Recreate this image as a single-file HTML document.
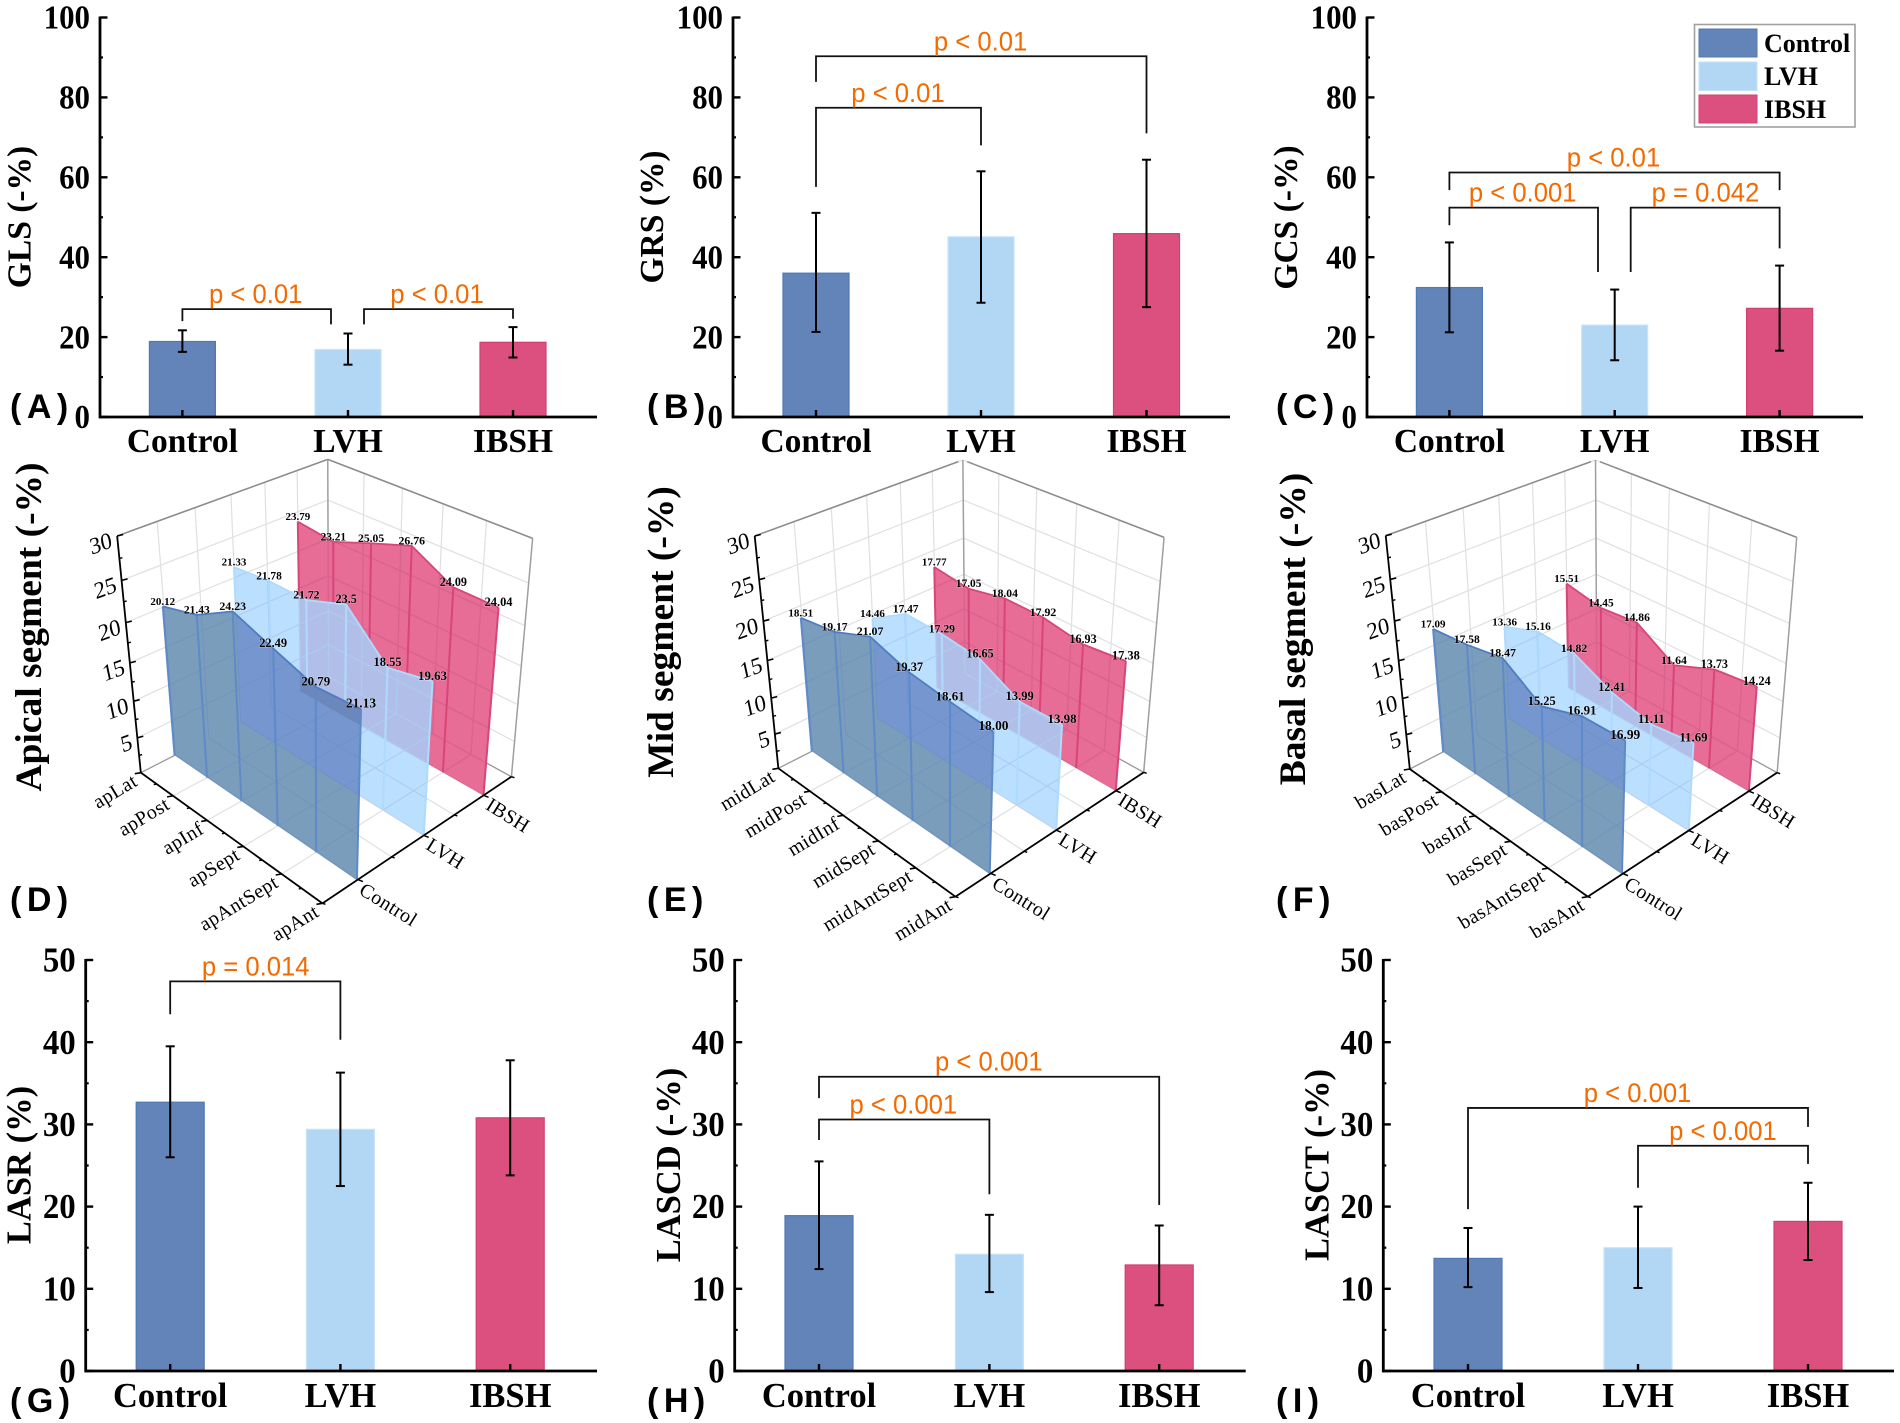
<!DOCTYPE html>
<html lang="en">
<head>
<meta charset="utf-8">
<title>Strain comparison among Control, LVH and IBSH</title>
<style>
html,body{margin:0;padding:0;background:#fff;}
svg{display:block;}
text{font-family:"Liberation Serif",serif;}
.sans{font-family:"Liberation Sans",sans-serif;}
</style>
</head>
<body>
<svg id="figure" xmlns="http://www.w3.org/2000/svg" width="1900" height="1423" viewBox="0 0 1900 1423">
  <rect width="1900" height="1423" fill="#ffffff"/>
  <g>
    <rect x="1694.5" y="24.5" width="160.5" height="102.5" fill="#fff" stroke="#a0a0a0" stroke-width="1.6"/>
    <rect x="1699" y="29" width="58" height="28" fill="#6384b9" stroke="#5279b2"/>
    <text x="1764" y="52" font-size="26" font-weight="700">Control</text>
    <rect x="1699" y="62" width="58" height="28.5" fill="#b2d7f5" stroke="#c4e2fa"/>
    <text x="1764" y="85" font-size="26" font-weight="700">LVH</text>
    <rect x="1699" y="95" width="58" height="28" fill="#dc5080" stroke="#d8406f"/>
    <text x="1764" y="118" font-size="26" font-weight="700">IBSH</text>
  </g>
</svg>
<script>
// ---------- shared categories ----------
const categories = ['Control', 'LVH', 'IBSH'];
const ticks100 = [0, 20, 40, 60, 80, 100];
const ticks50 = [0, 10, 20, 30, 40, 50];
const ticks3d = [5, 10, 15, 20, 25, 30];

// ---------- bar chart values ----------
const glsMeans = [18.9, 16.9, 18.7];
const glsUpper = [21.7, 20.9, 22.5];
const glsLower = [16.3, 13.1, 14.9];
const grsMeans = [36.0, 45.1, 45.9];
const grsUpper = [51.1, 61.5, 64.4];
const grsLower = [21.3, 28.6, 27.5];
const gcsMeans = [32.4, 23.0, 27.2];
const gcsUpper = [43.7, 31.9, 37.9];
const gcsLower = [21.2, 14.2, 16.6];
const lasrMeans = [32.7, 29.4, 30.8];
const lasrUpper = [39.5, 36.3, 37.8];
const lasrLower = [26.0, 22.5, 23.8];
const lascdMeans = [18.9, 14.2, 12.9];
const lascdUpper = [25.5, 19.0, 17.7];
const lascdLower = [12.4, 9.6, 8.0];
const lasctMeans = [13.7, 15.0, 18.2];
const lasctUpper = [17.4, 20.0, 22.9];
const lasctLower = [10.2, 10.1, 13.5];

// ---------- segmental values ----------
const apicalSegments = ['apLat', 'apPost', 'apInf', 'apSept', 'apAntSept', 'apAnt'];
const apicalControl = [20.12, 21.43, 24.23, 22.49, 20.79, 21.13];
const apicalLVH = [21.33, 21.78, 21.72, 23.5, 18.55, 19.63];
const apicalIBSH = [23.79, 23.21, 25.05, 26.76, 24.09, 24.04];
const midSegments = ['midLat', 'midPost', 'midInf', 'midSept', 'midAntSept', 'midAnt'];
const midControl = [18.51, 19.17, 21.07, 19.37, 18.61, 18.00];
const midLVH = [14.46, 17.47, 17.29, 16.65, 13.99, 13.98];
const midIBSH = [17.77, 17.05, 18.04, 17.92, 16.93, 17.38];
const basalSegments = ['basLat', 'basPost', 'basInf', 'basSept', 'basAntSept', 'basAnt'];
const basalControl = [17.09, 17.58, 18.47, 15.25, 16.91, 16.99];
const basalLVH = [13.36, 15.16, 14.82, 12.41, 11.11, 11.69];
const basalIBSH = [15.51, 14.45, 14.86, 11.64, 13.73, 14.24];

// ---------- palette ----------
const barFill = ['#6384b9', '#b2d7f5', '#dc5080'];
const barEdge = ['#4f79b4', '#c6e3fa', '#d23f70'];
const ORANGE = '#f26a00';
const NS = 'http://www.w3.org/2000/svg';
const svg = document.getElementById('figure');

function mk(parent, tag, attrs, name) {
  const el = document.createElementNS(NS, tag);
  for (const k in attrs) el.setAttribute(k, attrs[k]);
  
  
  parent.appendChild(el);
  return el;
}
function line(parent, x1, y1, x2, y2, stroke, w, name) {
  return mk(parent, 'line', {x1: x1, y1: y1, x2: x2, y2: y2, stroke: stroke, 'stroke-width': w}, name);
}
function label(parent, x, y, str, attrs, name) {
  const el = mk(parent, 'text', Object.assign({x: x, y: y}, attrs), name);
  el.textContent = str;
  return el;
}

// ---------- bar panels ----------
function barPanel(p) {
  const g = mk(svg, 'g', {}, 'panel-' + p.id);
  const sy = v => p.y0 - (v / p.max) * (p.y0 - p.y1);
  const half = p.barW / 2;
  p.means.forEach((m, i) => {
    const top = sy(m);
    mk(g, 'rect', {x: p.cx[i] - half, y: top, width: p.barW, height: p.y0 - top, fill: barFill[i], stroke: barEdge[i], 'stroke-width': 1.2}, 'bar-' + p.id + '-' + categories[i]);
    const eb = mk(g, 'g', {}, 'error-bar-' + p.id + '-' + categories[i]);
    line(eb, p.cx[i], sy(p.upper[i]), p.cx[i], sy(p.lower[i]), '#000', 2, 'error-stem');
    line(eb, p.cx[i] - 4.5, sy(p.upper[i]), p.cx[i] + 4.5, sy(p.upper[i]), '#000', 2, 'error-cap-upper');
    line(eb, p.cx[i] - 4.5, sy(p.lower[i]), p.cx[i] + 4.5, sy(p.lower[i]), '#000', 2, 'error-cap-lower');
  });
  line(g, p.x0, p.y1 - 1, p.x0, p.y0 + 1.2, '#000', 2.8, 'y-axis-line');
  line(g, p.x0 - 1, p.y0, p.x1, p.y0, '#000', 2.8, 'x-axis-line');
  p.ticks.forEach((t, i) => {
    line(g, p.x0, sy(t), p.x0 + 7.5, sy(t), '#000', 2.4, 'y-tick-major');
    if (i < p.ticks.length - 1) line(g, p.x0, sy((t + p.ticks[i + 1]) / 2), p.x0 + 3, sy((t + p.ticks[i + 1]) / 2), '#000', 2.2, 'y-tick-minor');
    label(g, 0, 0, String(t), {'text-anchor': 'end', 'font-size': p.tickFont, 'font-weight': 700, transform: 'translate(' + (p.x0 - 10) + ',' + (sy(t) + p.tickFont * 0.33) + ') scale(' + p.tickScale + ',1)'}, 'y-tick-label');
  });
  categories.forEach((c, i) => {
    line(g, p.cx[i], p.y0, p.cx[i], p.y0 - 7, '#000', 2.4, 'x-tick');
    label(g, p.cx[i], p.catY, c, {'text-anchor': 'middle', 'font-size': p.catFont, 'font-weight': 700}, 'x-tick-label-' + c);
  });
  label(g, 0, 0, p.title, {'text-anchor': 'middle', 'font-size': p.titleFont, 'font-weight': 700, transform: 'translate(' + p.titleX + ',' + p.titleY + ') rotate(-90)'}, 'y-axis-title');
  p.brackets.forEach((b, i) => {
    const xa = p.cx[b.from] + (b.dxA || 0);
    const xb = p.cx[b.to] + (b.dxB || 0);
    const br = mk(g, 'g', {}, 'significance-bracket-' + (i + 1));
    mk(br, 'polyline', {points: xa + ',' + sy(b.dropA) + ' ' + xa + ',' + sy(b.level) + ' ' + xb + ',' + sy(b.level) + ' ' + xb + ',' + sy(b.dropB), fill: 'none', stroke: '#111', 'stroke-width': 1.8}, 'bracket-line');
    label(br, 0, 0, b.text, {'text-anchor': 'middle', 'font-size': 27, fill: ORANGE, class: 'sans', transform: 'translate(' + b.textX + ',' + (sy(b.level) - 6) + ') scale(0.95,1)'}, 'p-value-label');
  });
  panelLetter(p.letter, p.letterX, p.letterY);
}
function panelLetter(str, x, y) {
  label(svg, x, y, str, {class: 'sans', 'font-size': 34, 'font-weight': 700, 'letter-spacing': 5.5}, 'panel-letter');
}

const upperY = {y0: 417, y1: 17.5, max: 100, ticks: ticks100, barW: 66, tickFont: 34, tickScale: 0.91, catFont: 33.5, catY: 452, titleFont: 33.5, letterY: 418};
const lowerY = {y0: 1371, y1: 960, max: 50, ticks: ticks50, barW: 68, tickFont: 35, tickScale: 0.94, catFont: 34.5, catY: 1407, titleFont: 34.5, letterY: 1412};

barPanel(Object.assign({}, upperY, {id: 'gls', means: glsMeans, upper: glsUpper, lower: glsLower, x0: 100, x1: 597, cx: [182.4, 348, 513],
  title: 'GLS (-%)', titleX: 30.5, titleY: 217, letter: '(A)', letterX: 10,
  brackets: [
    {from: 0, to: 1, level: 27, dropA: 24, dropB: 23.2, dxB: -17, text: 'p < 0.01', textX: 255.7},
    {from: 1, to: 2, level: 27, dropA: 23.2, dropB: 24.6, dxA: 16, text: 'p < 0.01', textX: 437}
  ]}));
barPanel(Object.assign({}, upperY, {id: 'grs', means: grsMeans, upper: grsUpper, lower: grsLower, x0: 733, x1: 1230, cx: [816, 981, 1146.5],
  title: 'GRS (%)', titleX: 663, titleY: 217, letter: '(B)', letterX: 647,
  brackets: [
    {from: 0, to: 2, level: 90.3, dropA: 83.9, dropB: 71, text: 'p < 0.01', textX: 980.6},
    {from: 0, to: 1, level: 77.4, dropA: 57.6, dropB: 68, text: 'p < 0.01', textX: 898}
  ]}));
barPanel(Object.assign({}, upperY, {id: 'gcs', means: gcsMeans, upper: gcsUpper, lower: gcsLower, x0: 1367, x1: 1863, cx: [1449.4, 1614.7, 1779.6],
  title: 'GCS (-%)', titleX: 1297, titleY: 217.5, letter: '(C)', letterX: 1276,
  brackets: [
    {from: 0, to: 2, level: 61.2, dropA: 56.8, dropB: 56.8, text: 'p < 0.01', textX: 1613.5},
    {from: 0, to: 1, level: 52.4, dropA: 48, dropB: 36.3, dxB: -16.7, text: 'p < 0.001', textX: 1522.7},
    {from: 1, to: 2, level: 52.4, dropA: 36.3, dropB: 42.2, dxA: 16, text: 'p = 0.042', textX: 1705.5}
  ]}));
barPanel(Object.assign({}, lowerY, {id: 'lasr', means: lasrMeans, upper: lasrUpper, lower: lasrLower, x0: 85.7, x1: 597, cx: [170.2, 340.4, 510.2],
  title: 'LASR (%)', titleX: 30.5, titleY: 1165, letter: '(G)', letterX: 10,
  brackets: [
    {from: 0, to: 1, level: 47.4, dropA: 43.4, dropB: 40.3, text: 'p = 0.014', textX: 255.7}
  ]}));
barPanel(Object.assign({}, lowerY, {id: 'lascd', means: lascdMeans, upper: lascdUpper, lower: lascdLower, x0: 734.7, x1: 1245.7, cx: [819, 989.4, 1159.2],
  title: 'LASCD (-%)', titleX: 680, titleY: 1165, letter: '(H)', letterX: 647,
  brackets: [
    {from: 0, to: 2, level: 35.8, dropA: 33.2, dropB: 20.2, text: 'p < 0.001', textX: 988.8},
    {from: 0, to: 1, level: 30.6, dropA: 28.1, dropB: 21.5, text: 'p < 0.001', textX: 903.3}
  ]}));
barPanel(Object.assign({}, lowerY, {id: 'lasct', means: lasctMeans, upper: lasctUpper, lower: lasctLower, x0: 1383.3, x1: 1894, cx: [1468, 1638, 1808],
  title: 'LASCT (-%)', titleX: 1328.6, titleY: 1165, letter: '(I)', letterX: 1276,
  brackets: [
    {from: 0, to: 2, level: 32, dropA: 19.7, dropB: 29.7, text: 'p < 0.001', textX: 1637.6},
    {from: 1, to: 2, level: 27.4, dropA: 22.3, dropB: 25.2, text: 'p < 0.001', textX: 1722.9}
  ]}));

// ---------- 3D waterfall panels ----------
function homography(q) {
  const [p0, p1, p2, p3] = q;
  const dx1 = p1[0] - p2[0], dx2 = p3[0] - p2[0], sx = p0[0] - p1[0] + p2[0] - p3[0];
  const dy1 = p1[1] - p2[1], dy2 = p3[1] - p2[1], sy = p0[1] - p1[1] + p2[1] - p3[1];
  const den = dx1 * dy2 - dx2 * dy1;
  const g = (sx * dy2 - dx2 * sy) / den, h = (dx1 * sy - sx * dy1) / den;
  const a = p1[0] - p0[0] + g * p1[0], b = p3[0] - p0[0] + h * p3[0], c = p0[0];
  const d = p1[1] - p0[1] + g * p1[1], e = p3[1] - p0[1] + h * p3[1], f = p0[1];
  return (u, v) => {
    const w = g * u + h * v + 1;
    return [(a * u + b * v + c) / w, (d * u + e * v + f) / w];
  };
}
const zq = (X, Y, x0, y0) => [X / 2.45 + x0, Y / 3 + y0];

function waterfall(p) {
  const g = mk(svg, 'g', {}, 'panel-' + p.id);
  const c = p.corners;
  const C = k => zq(c[k][0], c[k][1], p.ox, 450);
  const floor = homography([C('A'), C('B'), C('C'), C('D')]);
  const roof = homography([C('At'), C('Bt'), C('Ct'), C('Dt')]);
  const K = 1.155;
  const P = (u, v, z) => {
    const f = floor(u, v), r = roof(u, v), w = z / 30;
    const t = w / (K - (K - 1) * w);
    return [f[0] + (r[0] - f[0]) * t, f[1] + (r[1] - f[1]) * t];
  };
  const seg = (a, b, stroke, w, name) => line(g, a[0], a[1], b[0], b[1], stroke, w, name);
  const drawGrid = (parent, stroke, w) => {
    const s = (a, b, name) => line(parent, a[0], a[1], b[0], b[1], stroke, w, name);
    for (let i = 1; i <= 5; i++) {
      s(P(i / 5, 0, 0), P(i / 5, 1, 0), 'floor-grid-line');
      s(P(i / 5, 1, 0), P(i / 5, 1, 30), 'wall-grid-line');
    }
    for (let i = 1; i <= 6; i++) {
      s(P(0, i / 6, 0), P(1, i / 6, 0), 'floor-grid-line');
      s(P(0, i / 6, 0), P(0, i / 6, 30), 'wall-grid-line');
    }
    ticks3d.forEach(t => {
      s(P(0, 0, t), P(0, 1, t), 'wall-grid-line');
      s(P(0, 1, t), P(1, 1, t), 'wall-grid-line');
    });
  };
  drawGrid(g, '#e0e0e0', 1.2);
  const gap = p.topGap || 0;
  seg(P(0, 0, 30), P(0, 1 - gap, 30), '#8c8c8c', 1.6, 'wall-top-edge');
  seg(P(gap, 1, 30), P(1, 1, 30), '#8c8c8c', 1.6, 'wall-top-edge');
  seg(P(0, 0, 0), P(0, 1, 0), '#999', 1.3, 'floor-edge');
  seg(P(0, 1, 0), P(1, 1, 0), '#999', 1.3, 'floor-edge');
  seg(P(0, 1, 0), P(0, 1, 30), '#a0a0a0', 1.5, 'back-edge');
  seg(P(1, 1, 0), P(1, 1, 30), '#a0a0a0', 1.5, 'right-edge');

  const paneV = [0.162, 0.5, 0.833];
  const polyOf = (vals, v) => {
    const top = vals.map((val, i) => P(i / 5, v, val));
    const base = vals.map((val, i) => P(i / 5, v, 0)).reverse();
    return top.concat(base).map(q => q[0].toFixed(1) + ',' + q[1].toFixed(1)).join(' ');
  };
  const defs = mk(g, 'defs', {}, 'pane-clips');
  const ctlClip = mk(defs, 'clipPath', {id: p.id + '-clip-control'}, 'clip-control');
  mk(ctlClip, 'polygon', {points: polyOf(p.control, paneV[0])}, 'clip-shape');
  const lvhClip = mk(defs, 'clipPath', {id: p.id + '-clip-lvh'}, 'clip-lvh');
  mk(lvhClip, 'polygon', {points: polyOf(p.lvh, paneV[1])}, 'clip-shape');
  const ibshClip = mk(defs, 'clipPath', {id: p.id + '-clip-ibsh'}, 'clip-ibsh');
  mk(ibshClip, 'polygon', {points: polyOf(p.ibsh, paneV[2])}, 'clip-shape');

  const ribs = (parent, vals, v, stroke, w, name) => {
    vals.forEach((val, i) => {
      const a = P(i / 5, v, val), b = P(i / 5, v, 0);
      line(parent, a[0], a[1], b[0], b[1], stroke, w, name);
    });
  };
  // IBSH pane
  const ibshG = mk(g, 'g', {}, 'pane-ibsh');
  mk(ibshG, 'polygon', {points: polyOf(p.ibsh, paneV[2]), fill: '#e76d96'}, 'pane-fill-ibsh');
  const ibshGrid = mk(ibshG, 'g', {'clip-path': 'url(#' + p.id + '-clip-ibsh)'}, 'pane-grid-through-ibsh');
  drawGrid(ibshGrid, '#d8648e', 1.4);
  ribs(ibshG, p.ibsh, paneV[2], '#d9447a', 2, 'pane-rib-ibsh');
  mk(ibshG, 'polyline', {points: p.ibsh.map((val, i) => P(i / 5, paneV[2], val).join(',')).join(' '), fill: 'none', stroke: '#d9447a', 'stroke-width': 1.8}, 'pane-top-ibsh');
  // LVH pane
  const lvhG = mk(g, 'g', {}, 'pane-lvh');
  mk(lvhG, 'polygon', {points: polyOf(p.lvh, paneV[1]), fill: '#bbdfff'}, 'pane-fill-lvh');
  const lvhOver = mk(lvhG, 'g', {'clip-path': 'url(#' + p.id + '-clip-ibsh)'}, 'pane-lvh-over-ibsh');
  mk(lvhOver, 'polygon', {points: polyOf(p.lvh, paneV[1]), fill: '#b1bfe8'}, 'pane-overlap-lvh-ibsh');
  const lvhGrid = mk(lvhG, 'g', {'clip-path': 'url(#' + p.id + '-clip-lvh)'}, 'pane-grid-through-lvh');
  drawGrid(lvhGrid, '#aecbef', 1.1);
  ribs(lvhG, p.lvh, paneV[1], '#aedbfd', 2, 'pane-rib-lvh');
  mk(lvhG, 'polyline', {points: p.lvh.map((val, i) => P(i / 5, paneV[1], val).join(',')).join(' '), fill: 'none', stroke: '#aedbfd', 'stroke-width': 1.8}, 'pane-top-lvh');
  // Control pane
  const ctlG = mk(g, 'g', {}, 'pane-control');
  mk(ctlG, 'polygon', {points: polyOf(p.control, paneV[0]), fill: '#7a9dbb'}, 'pane-fill-control');
  const ctlOver = mk(ctlG, 'g', {'clip-path': 'url(#' + p.id + '-clip-lvh)'}, 'pane-control-over-lvh');
  mk(ctlOver, 'polygon', {points: polyOf(p.control, paneV[0]), fill: '#7596cf'}, 'pane-overlap-control-lvh');
  const ctlOver2 = mk(ctlOver, 'g', {'clip-path': 'url(#' + p.id + '-clip-ibsh)'}, 'pane-control-over-both');
  mk(ctlOver2, 'polygon', {points: polyOf(p.control, paneV[0]), fill: '#6b87bb'}, 'pane-overlap-control-all');
  const ctlGrid = mk(ctlG, 'g', {'clip-path': 'url(#' + p.id + '-clip-control)', opacity: 0.45}, 'pane-grid-through-control');
  drawGrid(ctlGrid, '#6a8ac0', 1);
  ribs(ctlG, p.control, paneV[0], '#5f8ac9', 2, 'pane-rib-control');
  mk(ctlG, 'polyline', {points: p.control.map((val, i) => P(i / 5, paneV[0], val).join(',')).join(' '), fill: 'none', stroke: '#4f7dc0', 'stroke-width': 1.8}, 'pane-top-control');

  // Axes
  seg(P(0, 0, 0), P(0, 0, 30), '#000', 1.8, 'z-axis-line');
  seg(P(0, 0, 0), P(1, 0, 0), '#000', 1.8, 'segment-axis-line');
  seg(P(1, 0, 0), P(1, 1, 0), '#000', 1.8, 'group-axis-line');
  ticks3d.forEach(t => {
    const a = P(0, 0, t);
    seg(a, [a[0] + 6, a[1] - 1.5], '#000', 1.6, 'z-tick-major');
    const m = P(0, 0, t - 2.5);
    seg(m, [m[0] + 3, m[1] - 0.8], '#000', 1.4, 'z-tick-minor');
    label(g, 0, 0, String(t), {'font-size': 23, 'text-anchor': 'end', transform: 'translate(' + (a[0] - 4).toFixed(1) + ',' + (a[1] + 11).toFixed(1) + ') rotate(-20) skewX(-8)'}, 'z-tick-label');
  });
  p.segments.forEach((s, i) => {
    const a = P(i / 5, 0, 0);
    seg(a, [a[0] - 6, a[1] + 1], '#000', 1.6, 'segment-tick');
    if (i < 5) {
      const m = P((i + 0.5) / 5, 0, 0);
      seg(m, [m[0] - 3, m[1] + 0.5], '#000', 1.4, 'segment-tick-minor');
    }
    label(g, 0, 0, s, {'font-size': 20, 'letter-spacing': 0.4, 'text-anchor': 'end', transform: 'translate(' + (a[0] - 2).toFixed(1) + ',' + (a[1] + 12).toFixed(1) + ') rotate(-31)'}, 'segment-label-' + s);
  });
  for (let i = 0; i <= 6; i++) {
    const a = P(1, i / 6, 0);
    seg(a, [a[0] + (i % 2 ? 5 : 3), a[1] + (i % 2 ? 2 : 1)], '#000', 1.5, 'group-tick');
  }
  categories.forEach((cat, i) => {
    const a = P(1, paneV[i], 0);
    label(g, 0, 0, cat, {'font-size': 20, 'letter-spacing': 0.4, transform: 'translate(' + (a[0] + 1).toFixed(1) + ',' + (a[1] + 13).toFixed(1) + ') rotate(32)'}, 'group-label-' + cat);
  });
  // Data labels
  [p.ibsh, p.lvh, p.control].forEach((vals, gi) => {
    const v = paneV[2 - gi];
    vals.forEach((val, i) => {
      const a = P(i / 5, v, val);
      const size = 11 + 2.4 * (i / 5) * (1.08 - 0.6 * v);
      label(g, a[0], a[1] - 1.5, p.printed[gi][i], {'text-anchor': 'middle', 'font-size': size.toFixed(1), 'font-weight': 700, stroke: '#fff', 'stroke-opacity': 0.35, 'stroke-width': 1, 'paint-order': 'stroke'}, 'data-label');
    });
  });
  label(g, 0, 0, p.title, {'text-anchor': 'middle', 'font-size': p.titleFont, 'font-weight': 700, transform: 'translate(' + p.titleX + ',' + p.titleY + ') rotate(-90)'}, 'y-axis-title');
  panelLetter(p.letter, p.letterX, 911);
}

waterfall({id: 'apical', ox: 0, segments: apicalSegments, control: apicalControl, lvh: apicalLVH, ibsh: apicalIBSH,
  printed: [apicalIBSH.map(n => n.toFixed(2)), apicalLVH.map(n => n === 23.5 ? '23.5' : n.toFixed(2)), apicalControl.map(n => n.toFixed(2))],
  corners: {A: [345, 968], B: [790, 1360], C: [1253, 980], D: [805, 680], At: [287, 258], Bt: [792, 590], Ct: [1305, 265], Dt: [803, 28]},
  title: 'Apical segment (-%)', titleFont: 37.5, titleX: 41, titleY: 627, letter: '(D)', letterX: 10});
waterfall({id: 'mid', ox: 620, topGap: 0.025, segments: midSegments, control: midControl, lvh: midLVH, ibsh: midIBSH,
  printed: [midIBSH.map(n => n.toFixed(2)), midLVH.map(n => n.toFixed(2)), midControl.map(n => n.toFixed(2))],
  corners: {A: [388, 955], B: [822, 1340], C: [1283, 967], D: [845, 670], At: [330, 258], Bt: [827, 575], Ct: [1333, 262], Dt: [840, 30]},
  title: 'Mid segment (-%)', titleFont: 37.5, titleX: 673, titleY: 632, letter: '(E)', letterX: 647});
waterfall({id: 'basal', ox: 1260, topGap: 0.025, segments: basalSegments, control: basalControl, lvh: basalLVH, ibsh: basalIBSH,
  printed: [basalIBSH.map(n => n.toFixed(2)), basalLVH.map(n => n.toFixed(2)), basalControl.map(n => n.toFixed(2))],
  corners: {A: [367, 957], B: [803, 1340], C: [1267, 968], D: [825, 670], At: [308, 257], Bt: [806, 575], Ct: [1315, 262], Dt: [822, 30]},
  title: 'Basal segment (-%)', titleFont: 37.5, titleX: 1305, titleY: 629, letter: '(F)', letterX: 1276});
</script>
</body>
</html>
